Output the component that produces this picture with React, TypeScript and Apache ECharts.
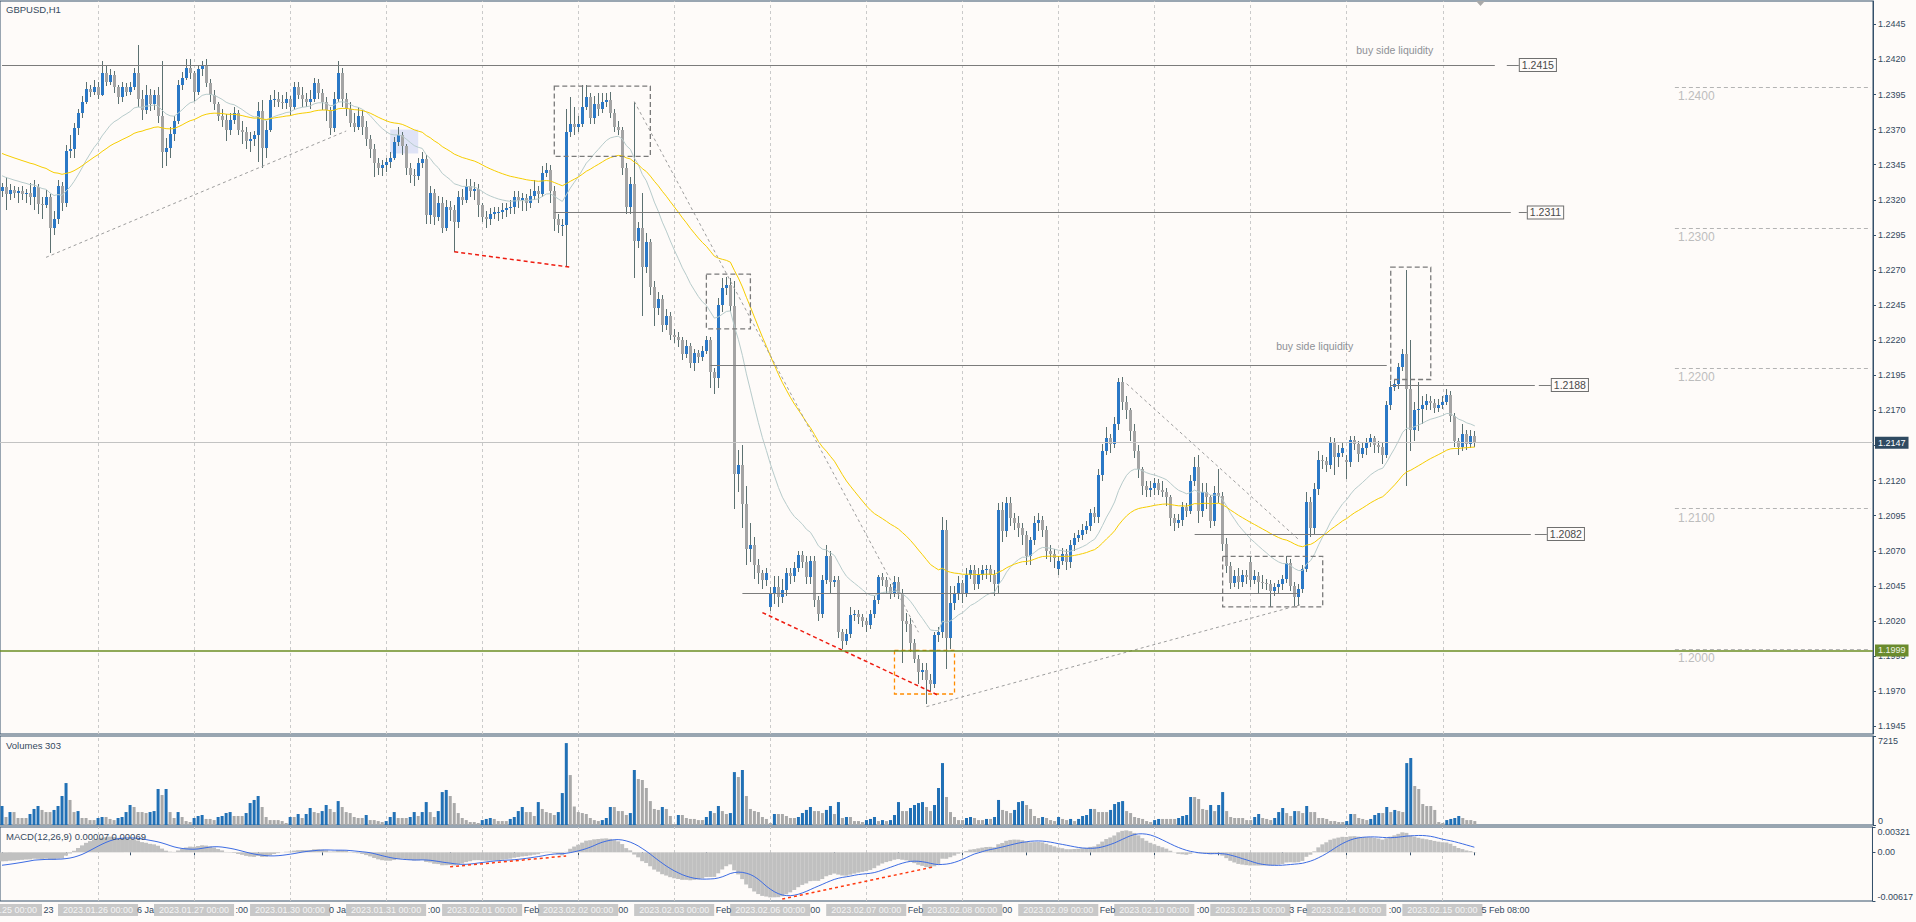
import React, { useEffect, useRef } from 'react';
import * as echarts from 'echarts';

// ---------------- DATA ----------------
const TITLE = 'GBPUSD,H1';
const VOLUME_TITLE = 'Volumes 303';
const MACD_TITLE = 'MACD(12,26,9) 0.00007 0.00069';
const DAYS = ['2023.01.25', '2023.01.26', '2023.01.27', '2023.01.30', '2023.01.31', '2023.02.01', '2023.02.02', '2023.02.03',
  '2023.02.06', '2023.02.07', '2023.02.08', '2023.02.09', '2023.02.10', '2023.02.13', '2023.02.14', '2023.02.15'];
const BARS_PER_DAY = 24;
const BARS_LAST_DAY = 9;
const FUTURE_BARS = 99;
const TIME_LABEL_EVERY = 16;
const MONTHS = ['Jan', 'Feb', 'Mar', 'Apr', 'May', 'Jun', 'Jul', 'Aug', 'Sep', 'Oct', 'Nov', 'Dec'];

// hourly bars: [open, high, low, close, volume]; prices in pips above 1.0000
const D0125 = [[2326,2332,2322,2329,1540],[2329,2336,2313,2324,650],[2324,2331,2320,2327,1050],[2327,2330,2321,2325,1050],[2325,2329,2318,2326,570],[2326,2330,2320,2324,570],[2324,2328,2318,2325,570],[2325,2332,2316,2322,890],[2322,2334,2313,2329,1300],[2329,2331,2310,2317,1540],[2317,2322,2306,2316,1220],[2316,2327,2314,2322,1050],[2322,2324,2282,2300,1050],[2300,2312,2295,2306,1220],[2306,2334,2303,2330,1540],[2330,2333,2312,2318,2350],[2318,2359,2315,2355,3400],[2355,2366,2350,2356,2030],[2356,2375,2350,2371,1050],[2371,2385,2366,2382,1130],[2382,2394,2378,2390,570],[2390,2404,2388,2399,570],[2399,2402,2393,2397,400],[2397,2405,2395,2400,400]];
const D0126 = [[2400,2404,2392,2395,570],[2395,2419,2394,2410,650],[2410,2416,2401,2404,650],[2404,2413,2402,2409,490],[2409,2412,2396,2400,400],[2400,2402,2388,2393,570],[2393,2404,2390,2400,650],[2400,2403,2394,2397,1050],[2397,2404,2395,2400,1620],[2400,2414,2398,2410,1460],[2410,2430,2386,2392,1050],[2392,2398,2377,2384,1050],[2384,2402,2381,2395,970],[2395,2399,2383,2388,1050],[2388,2398,2384,2395,1130],[2395,2400,2375,2380,2920],[2380,2419,2343,2354,2430],[2354,2364,2344,2357,2920],[2357,2372,2350,2367,1050],[2367,2380,2362,2376,570],[2376,2405,2374,2402,1050],[2402,2411,2398,2407,650],[2407,2420,2405,2414,320],[2414,2420,2406,2410,240]];
const D0127 = [[2410,2412,2390,2397,570],[2397,2416,2395,2413,730],[2413,2419,2408,2416,810],[2416,2420,2400,2403,490],[2403,2406,2390,2395,490],[2395,2398,2384,2388,400],[2388,2390,2376,2380,650],[2380,2385,2372,2377,730],[2377,2381,2362,2370,970],[2370,2382,2366,2377,1050],[2377,2386,2374,2382,730],[2382,2384,2366,2370,730],[2370,2376,2360,2368,730],[2368,2372,2356,2362,970],[2362,2368,2354,2363,1780],[2363,2369,2358,2366,2030],[2366,2390,2347,2383,2350],[2383,2391,2343,2357,1460],[2357,2376,2350,2370,650],[2370,2395,2368,2391,400],[2391,2398,2386,2392,400],[2392,2397,2386,2390,400],[2390,2395,2385,2389,320],[2389,2397,2385,2392,160]];
const D0130 = [[2392,2394,2380,2386,650],[2386,2404,2384,2400,650],[2400,2404,2392,2395,890],[2395,2400,2386,2392,570],[2392,2396,2386,2390,890],[2390,2398,2385,2392,1380],[2392,2407,2390,2403,1050],[2403,2406,2392,2396,970],[2396,2399,2384,2390,1130],[2390,2393,2376,2384,1620],[2384,2386,2366,2371,1300],[2371,2397,2368,2392,1050],[2392,2419,2390,2410,1940],[2410,2414,2386,2392,1460],[2392,2396,2380,2385,1050],[2385,2390,2372,2375,970],[2375,2382,2368,2372,650],[2372,2386,2370,2380,570],[2380,2384,2366,2372,570],[2372,2376,2358,2363,810],[2363,2366,2350,2356,400],[2356,2360,2336,2346,400],[2346,2350,2338,2343,320],[2343,2348,2337,2345,240]];
const D0131 = [[2345,2350,2340,2347,320],[2347,2354,2343,2350,650],[2350,2365,2348,2361,1050],[2361,2372,2358,2366,570],[2366,2368,2352,2358,570],[2358,2360,2338,2343,570],[2343,2346,2332,2338,650],[2338,2342,2330,2337,1050],[2337,2350,2334,2346,730],[2346,2354,2343,2349,1050],[2349,2352,2303,2309,1860],[2309,2330,2303,2325,1050],[2325,2328,2302,2308,650],[2308,2323,2305,2318,1130],[2318,2322,2296,2300,2670],[2300,2320,2298,2315,2840],[2315,2319,2305,2313,2350],[2313,2316,2283,2304,1780],[2304,2326,2300,2322,970],[2322,2328,2316,2320,570],[2320,2335,2318,2330,400],[2330,2335,2322,2326,240],[2326,2333,2320,2328,240],[2328,2331,2308,2316,160]];
const D0201 = [[2316,2318,2304,2308,400],[2308,2312,2300,2306,490],[2306,2314,2302,2310,570],[2310,2315,2306,2311,490],[2311,2315,2305,2311,320],[2311,2318,2306,2313,320],[2313,2318,2308,2314,320],[2314,2320,2310,2315,490],[2315,2326,2310,2322,650],[2322,2326,2314,2320,1130],[2320,2325,2312,2321,1460],[2321,2324,2312,2318,1050],[2318,2328,2314,2323,1050],[2323,2334,2320,2326,730],[2326,2330,2318,2324,1860],[2324,2344,2322,2339,1300],[2339,2346,2336,2341,1050],[2341,2345,2318,2326,970],[2326,2330,2298,2306,810],[2306,2310,2296,2302,1050],[2302,2306,2294,2302,2590],[2302,2385,2272,2368,6640],[2368,2393,2365,2374,4050],[2374,2386,2366,2372,1500]];
const D0202 = [[2372,2380,2368,2374,1050],[2374,2402,2372,2386,970],[2386,2402,2384,2393,890],[2393,2396,2374,2378,570],[2378,2394,2374,2388,400],[2388,2396,2380,2385,320],[2385,2396,2382,2390,400],[2390,2396,2386,2391,570],[2391,2397,2378,2382,1460],[2382,2385,2368,2372,1460],[2372,2376,2366,2370,1130],[2370,2372,2338,2343,1130],[2343,2346,2310,2315,810],[2315,2336,2310,2331,970],[2331,2390,2264,2291,4460],[2291,2304,2286,2300,3730],[2300,2325,2237,2272,3650],[2272,2296,2268,2290,3000],[2290,2292,2252,2258,1940],[2258,2262,2230,2243,1300],[2243,2254,2238,2249,1220],[2249,2252,2226,2231,1460],[2231,2242,2227,2237,1300],[2237,2240,2220,2224,730]];
const D0203 = [[2224,2228,2218,2222,80],[2222,2226,2215,2220,810],[2220,2222,2206,2210,810],[2210,2220,2207,2216,570],[2216,2218,2200,2204,490],[2204,2214,2198,2211,490],[2211,2213,2204,2208,400],[2208,2216,2205,2212,400],[2212,2223,2210,2220,650],[2220,2222,2186,2197,1130],[2197,2200,2182,2193,970],[2193,2250,2186,2245,1540],[2245,2264,2240,2257,1130],[2257,2265,2252,2259,890],[2259,2264,2240,2244,970],[2244,2262,2100,2125,4290],[2125,2142,2112,2131,3890],[2131,2145,2086,2103,4460],[2103,2116,2060,2071,2350],[2071,2090,2062,2074,1300],[2074,2080,2050,2060,1130],[2060,2064,2046,2054,1050],[2054,2056,2043,2049,650],[2049,2058,2045,2054,490]];
const D0206 = [[2030,2044,2027,2040,160],[2040,2052,2032,2044,890],[2044,2052,2030,2037,890],[2037,2050,2033,2042,890],[2042,2058,2038,2054,730],[2054,2058,2046,2052,570],[2052,2062,2048,2058,570],[2058,2070,2055,2067,650],[2067,2070,2058,2062,970],[2062,2066,2046,2051,1220],[2051,2066,2046,2063,1460],[2063,2066,2030,2035,1130],[2035,2038,2020,2025,1130],[2025,2053,2022,2049,970],[2049,2074,2046,2066,1220],[2066,2070,2040,2048,1540],[2048,2052,2044,2049,890],[2049,2052,2008,2012,1860],[2012,2014,2000,2006,570],[2006,2014,2003,2011,650],[2011,2030,2008,2024,650],[2024,2028,2020,2025,320],[2025,2028,2018,2023,320],[2023,2025,2016,2020,240]];
const D0207 = [[2020,2022,2012,2017,400],[2017,2028,2014,2025,490],[2025,2038,2022,2035,650],[2035,2053,2032,2051,320],[2051,2054,2045,2049,400],[2049,2051,2040,2044,320],[2044,2046,2036,2040,400],[2040,2052,2037,2048,810],[2048,2051,2036,2040,1860],[2040,2043,1990,2020,1130],[2020,2026,2012,2018,1130],[2018,2022,1998,2004,1380],[2004,2007,1990,1993,1620],[1993,1996,1975,1984,1780],[1984,1990,1978,1985,1860],[1985,1990,1961,1978,1460],[1978,1982,1970,1975,1130],[1975,2012,1972,2010,1620],[2010,2016,2005,2012,3000],[2012,2094,2008,2085,5020],[2085,2092,1986,2008,2270],[2008,2045,2000,2033,1050],[2033,2045,2028,2039,650],[2039,2052,2035,2047,400]];
const D0208 = [[2047,2049,2033,2040,400],[2040,2058,2037,2053,570],[2053,2060,2050,2056,650],[2056,2060,2042,2046,570],[2046,2058,2043,2053,400],[2053,2060,2049,2056,400],[2056,2060,2050,2057,490],[2057,2060,2048,2053,490],[2053,2056,2038,2046,650],[2046,2104,2040,2099,2030],[2099,2105,2076,2084,1220],[2084,2108,2080,2104,1130],[2104,2108,2088,2093,970],[2093,2097,2085,2090,1220],[2090,2095,2080,2086,1860],[2086,2090,2074,2081,1940],[2081,2084,2060,2066,1620],[2066,2080,2060,2078,1300],[2078,2095,2074,2090,730],[2090,2097,2084,2092,570],[2092,2095,2080,2085,650],[2085,2088,2064,2070,570],[2070,2074,2062,2068,400],[2068,2071,2058,2065,320]];
const D0209 = [[2057,2066,2053,2063,650],[2063,2072,2060,2068,490],[2068,2071,2056,2062,400],[2062,2078,2058,2074,490],[2074,2083,2070,2079,320],[2079,2085,2076,2081,490],[2081,2089,2078,2085,730],[2085,2091,2082,2088,810],[2088,2100,2084,2097,1300],[2097,2101,2090,2094,1300],[2094,2128,2090,2124,1050],[2124,2146,2120,2141,1050],[2141,2158,2138,2150,1050],[2150,2153,2140,2146,1220],[2146,2165,2143,2160,1700],[2160,2193,2156,2190,1860],[2190,2194,2170,2176,1940],[2176,2180,2164,2170,1130],[2170,2172,2148,2155,970],[2155,2160,2136,2141,650],[2141,2145,2122,2128,570],[2128,2130,2110,2116,490],[2116,2120,2108,2113,320],[2113,2120,2108,2115,240]];
const D0210 = [[2115,2122,2110,2118,400],[2118,2121,2110,2113,490],[2113,2120,2108,2112,490],[2112,2115,2102,2108,490],[2108,2110,2088,2093,490],[2093,2096,2084,2090,490],[2090,2096,2086,2092,570],[2092,2105,2088,2101,730],[2101,2104,2094,2098,810],[2098,2124,2096,2120,2270],[2120,2137,2116,2130,2270],[2130,2138,2090,2098,2110],[2098,2118,2094,2112,1300],[2112,2118,2100,2108,1220],[2108,2110,2086,2091,1620],[2091,2116,2088,2111,1130],[2111,2128,2104,2109,1620],[2109,2112,2070,2075,2670],[2075,2079,2054,2059,1130],[2059,2062,2043,2047,650],[2047,2056,2044,2052,570],[2052,2058,2043,2048,570],[2048,2056,2044,2053,570],[2053,2056,2046,2051,400]];
const D0213 = [[2062,2066,2044,2049,400],[2049,2056,2046,2052,650],[2052,2055,2040,2048,890],[2048,2053,2043,2047,570],[2047,2050,2042,2046,490],[2046,2049,2030,2041,400],[2041,2047,2038,2044,570],[2044,2049,2040,2046,1050],[2046,2053,2042,2050,1380],[2050,2066,2047,2061,970],[2061,2064,2041,2045,730],[2045,2048,2031,2037,1130],[2037,2046,2031,2043,1130],[2043,2060,2040,2057,970],[2057,2112,2055,2105,1540],[2105,2108,2080,2086,1050],[2086,2118,2082,2114,1050],[2114,2141,2110,2135,570],[2135,2138,2128,2134,570],[2134,2137,2126,2131,490],[2131,2151,2128,2147,320],[2147,2150,2124,2137,320],[2137,2145,2130,2140,240],[2140,2147,2137,2143,240]];
const D0214 = [[2135,2138,2121,2133,320],[2133,2152,2130,2149,890],[2149,2152,2142,2146,890],[2146,2148,2133,2139,570],[2139,2147,2136,2143,490],[2143,2150,2138,2147,400],[2147,2153,2144,2150,490],[2150,2152,2140,2145,810],[2145,2148,2140,2144,970],[2144,2147,2132,2138,970],[2138,2177,2136,2174,1460],[2174,2191,2170,2187,1050],[2187,2192,2184,2189,1220],[2189,2204,2185,2201,1130],[2201,2214,2198,2210,1050],[2210,2270,2116,2185,5020],[2185,2220,2141,2156,5430],[2156,2176,2148,2170,3160],[2170,2190,2155,2171,2920],[2171,2180,2160,2174,1700],[2174,2182,2170,2177,1540],[2177,2180,2170,2175,1540],[2175,2178,2168,2172,1220],[2172,2178,2169,2174,240]];
const D0215 = [[2174,2180,2171,2176,160],[2176,2185,2174,2181,400],[2181,2184,2162,2166,490],[2166,2168,2144,2148,570],[2148,2150,2138,2144,730],[2144,2160,2141,2153,570],[2153,2156,2142,2146,400],[2146,2156,2143,2152,400],[2152,2155,2144,2147,320]];
const DAY_BARS = [D0125, D0126, D0127, D0130, D0131, D0201, D0202, D0203, D0206, D0207, D0208, D0209, D0210, D0213, D0214, D0215];

// axis ticks / labels
const PRICE_TICKS = [1.1945, 1.1970, 1.1995, 1.2020, 1.2045, 1.2070, 1.2095, 1.2120, 1.2145, 1.2170, 1.2195, 1.2220, 1.2245, 1.2270, 1.2295, 1.2320, 1.2345, 1.2370, 1.2395, 1.2420, 1.2445];
const PRICE_RANGE = [1.19395, 1.24616];
const VOLUME_TICKS = [0, 7215];
const MACD_TICKS = [-0.00617, 0, 0.00321];

// indicator seeds (values before the first visible bar)
const EMA_FAST_SEED = 1.2338; // grey EMA(20)
const EMA_SLOW_SEED = 1.2354; // yellow EMA(50)
const MACD_SEED = { fast: 1.2333, slow: 1.2345, signal: -0.0017 };

// chart objects: [fromBar, toBar, price]
const LEVEL_LINES = [[0, 373, 1.2416], [138, 377, 1.2311], [177, 346, 1.2202], [347, 383, 1.2188], [298, 382, 1.2082], [185, 324, 1.2040]];
// price tags: [fromBar, toBar, price, text]
const LEVEL_TAGS = [[376, 379, 1.2416, '1.2415'], [379, 381, 1.2311, '1.2311'], [384, 387, 1.2188, '1.2188'], [383, 386, 1.2082, '1.2082']];
const ROUND_LEVELS = [1.2400, 1.2300, 1.2200, 1.2100, 1.2000];
const ROUND_LEVEL_FROM = 418;
const BID_PRICE = 1.2147;
const SUPPORT_PRICE = 1.1999;
// rectangles: [fromBar, topPrice, toBar, bottomPrice]
const DASHED_BOXES = [[138, 1.2401, 162, 1.2351], [176, 1.2267, 187, 1.2228], [347, 1.2272, 357, 1.2192], [305, 1.2066, 330, 1.2030]];
const ORANGE_BOX = [223, 1.1999, 238, 1.1968];
const SHADE_BOX = [97, 1.2370, 104, 1.2353];
// trend lines: [fromBar, fromPrice, toBar, toPrice]
const TREND_LINES = [[11, 1.2279, 86, 1.2369], [158, 1.2390, 229, 1.2012], [231, 1.1959, 325, 1.2032], [281, 1.2189, 324, 1.2078]];
const RED_LINES = [[113, 1.2283, 142, 1.2272], [190, 1.2026, 234, 1.1967]];
const MACD_RED_LINES = [[112, -0.00183, 141, -0.00047], [195, -0.00592, 233, -0.00183]];
const NOTES = [[348, 1.2427, 'buy side liquidity'], [328, 1.2216, 'buy side liquidity']];

// ---------------- STYLE ----------------
const BG = '#fefbf9';
const FRAME = '#35506a';
const TXT = '#34495e';
const BULL = '#2a78c6';
const BEAR = '#a4a4a4';
const WICK = '#5c7171';
const FONT = 'Liberation Sans';
const AXIS_FONT = `9px "${FONT}"`;
const TIME_ROW_Y = 910;

function emaSeries(values: number[], period: number, seed: number) {
  const k = 2 / (period + 1);
  let e = seed;
  return values.map((v) => (e = e + k * (v - e)));
}

export default function App() {
  const ref = useRef<HTMLDivElement>(null);

  useEffect(() => {
    if (!ref.current) return;
    const chart = echarts.init(ref.current, null, { renderer: 'svg' });

    // categories
    const cats: string[] = [];
    DAYS.forEach((d, k) => {
      const n = k === DAYS.length - 1 ? BARS_LAST_DAY : BARS_PER_DAY;
      for (let h = 0; h < n; h++) cats.push(`${d} ${String(h).padStart(2, '0')}:00`);
    });
    const NDATA = cats.length;
    for (let f = 0; f < FUTURE_BARS; f++) cats.push(`future ${f}`);

    const timeLabel = (i: number) => {
      const v = cats[i];
      const m = Number(v.slice(5, 7));
      const dd = String(Number(v.slice(8, 10)));
      if (i === 0) return `${dd} ${MONTHS[m - 1]} ${v.slice(0, 4)}`;
      return `${dd} ${MONTHS[m - 1]} ${v.slice(11)}`;
    };

    const px = (v: number) => Number((1 + v / 10000).toFixed(4));
    const bars = ([] as number[][]).concat(...DAY_BARS);
    const candles = bars.map((b, i) => [i, px(b[0]), px(b[1]), px(b[2]), px(b[3])]);
    const closes = bars.map((b) => px(b[3]));
    const vols = bars.map((b) => b[4]);

    const emaFast = emaSeries(closes, 20, EMA_FAST_SEED);
    const emaSlow = emaSeries(closes, 50, EMA_SLOW_SEED);
    const e12 = emaSeries(closes, 12, MACD_SEED.fast);
    const e26 = emaSeries(closes, 26, MACD_SEED.slow);
    const macd = e12.map((v, i) => v - e26[i]);
    const padded = [...Array(8).fill(MACD_SEED.signal), ...macd];
    const signal = macd.map((_, i) => padded.slice(i, i + 9).reduce((a, b) => a + b, 0) / 9);

    const volData = vols.map((v, i) => ({
      value: v,
      itemStyle: { color: i === 0 || v > vols[i - 1] ? '#2170b5' : '#a9a9a9' },
    }));

    const dayStarts: number[] = [];
    for (let i = 0; i < NDATA; i += BARS_PER_DAY) dayStarts.push(i);
    const daySeps = dayStarts.filter((i) => i > 0).map((i) => ({ xAxis: cats[i] }));
    const sepLine = () => ({
      silent: true, symbol: ['none', 'none'], z: 1, label: { show: false }, precision: 6,
      lineStyle: { color: '#cacaca', type: [3, 3], width: 1 },
      emphasis: { disabled: true },
      data: daySeps,
    });
    const C = (i: number) => cats[i];

    const tagLabel = (text: string) => ({
      show: true, position: 'end', distance: 1, formatter: text,
      backgroundColor: BG, borderColor: '#6f6f6f', borderWidth: 1,
      color: '#4a4a4a', fontSize: 10.5, padding: [1, 2, 0, 2], lineHeight: 11,
    });

    const annotationLines: any[] = [];
    LEVEL_LINES.forEach(([a, b, p]) => annotationLines.push([
      { coord: [C(a), p], lineStyle: { color: '#7b7b7b', width: 1, type: 'solid' } }, { coord: [C(b), p] },
    ]));
    LEVEL_TAGS.forEach(([a, b, p, t]) => annotationLines.push([
      { coord: [C(a as number), p], lineStyle: { color: '#7b7b7b', width: 1, type: 'solid' }, label: tagLabel(t as string) },
      { coord: [C(b as number), p] },
    ]));
    TREND_LINES.forEach(([a, p1, b, p2]) => annotationLines.push([
      { coord: [C(a), p1], lineStyle: { color: '#9d9d9d', width: 1, type: [3, 3] } }, { coord: [C(b), p2] },
    ]));
    RED_LINES.forEach(([a, p1, b, p2]) => annotationLines.push([
      { coord: [C(a), p1], lineStyle: { color: '#ee1c10', width: 1.5, type: [4, 3] } }, { coord: [C(b), p2] },
    ]));
    ROUND_LEVELS.forEach((p) => annotationLines.push([
      {
        coord: [C(ROUND_LEVEL_FROM), p], lineStyle: { color: '#b4b4b4', width: 1, type: [4, 3] },
        label: { show: true, position: 'insideStartBottom', distance: 3, formatter: p.toFixed(4), color: '#bdbdbd', fontSize: 12 },
      },
      { coord: [C(cats.length - 1), p] },
    ]));

    const fullLines = [
      {
        yAxis: BID_PRICE, lineStyle: { color: '#c3c3c3', width: 1, type: 'solid' },
        label: { show: true, position: 'end', distance: 2, formatter: BID_PRICE.toFixed(4), backgroundColor: '#2f4a61', color: '#ffffff', fontSize: 9, padding: [2, 3, 1, 3] },
      },
      {
        yAxis: SUPPORT_PRICE, lineStyle: { color: '#6b8e23', width: 1.5, type: 'solid' },
        label: { show: true, position: 'end', distance: 2, formatter: SUPPORT_PRICE.toFixed(4), backgroundColor: '#6a8b2e', color: '#eef3e2', fontSize: 9, padding: [2, 3, 1, 3] },
      },
    ];

    const boxes: any[] = DASHED_BOXES.map(([a, p1, b, p2]) => [
      { coord: [C(a), p1], itemStyle: { color: 'rgba(0,0,0,0)', borderColor: '#7a7a7a', borderWidth: 1.3, borderType: [5, 3] } },
      { coord: [C(b), p2] },
    ]);
    boxes.push([
      { coord: [C(ORANGE_BOX[0]), ORANGE_BOX[1]], itemStyle: { color: 'rgba(0,0,0,0)', borderColor: '#ff8c00', borderWidth: 1.3, borderType: [4, 3] } },
      { coord: [C(ORANGE_BOX[2]), ORANGE_BOX[3]] },
    ]);

    const staticGraphics: any[] = [
      { type: 'text', left: 6, top: 4, style: { text: TITLE, fill: TXT, font: `9.5px "${FONT}"` }, z: 10 },
      { type: 'text', left: 6, top: 740, style: { text: VOLUME_TITLE, fill: TXT, font: `9.5px "${FONT}"` }, z: 10 },
      { type: 'text', left: 6, top: 831, style: { text: MACD_TITLE, fill: TXT, font: `9.5px "${FONT}"` }, z: 10 },
      { type: 'polygon', shape: { points: [[1476, 1], [1485, 1], [1480.5, 6]] }, style: { fill: '#a9a9a9' }, z: 10 },
    ];

    const option: any = {
      animation: false,
      backgroundColor: BG,
      textStyle: { fontFamily: FONT },
      grid: [
        { left: 0, top: 1, width: 1873, height: 733, show: true, borderColor: FRAME, borderWidth: 1, backgroundColor: 'transparent' },
        { left: 0, top: 736, width: 1873, height: 89, show: true, borderColor: FRAME, borderWidth: 1, backgroundColor: 'transparent' },
        { left: 0, top: 827, width: 1873, height: 74, show: true, borderColor: FRAME, borderWidth: 1, backgroundColor: 'transparent' },
      ],
      xAxis: [
        { type: 'category', gridIndex: 0, data: cats, show: false },
        { type: 'category', gridIndex: 1, data: cats, show: false },
        {
          type: 'category', gridIndex: 2, data: cats, position: 'bottom',
          axisLine: { show: false }, splitLine: { show: false },
          axisTick: { show: true, alignWithLabel: true, length: 3, interval: (i: number) => i % TIME_LABEL_EVERY === 0 && i < NDATA, lineStyle: { color: FRAME } },
          axisLabel: { show: false },
        },
      ],
      yAxis: [
        {
          type: 'value', gridIndex: 0, position: 'right', min: PRICE_RANGE[0], max: PRICE_RANGE[1],
          splitLine: { show: false },
          axisLine: { show: true, lineStyle: { color: FRAME } },
          axisTick: { show: true, length: 3, customValues: PRICE_TICKS, lineStyle: { color: FRAME } },
          axisLabel: { customValues: PRICE_TICKS, formatter: (v: number) => v.toFixed(4), fontSize: 9, color: TXT, margin: 5 },
        },
        {
          type: 'value', gridIndex: 1, position: 'right', min: VOLUME_TICKS[0], max: VOLUME_TICKS[1],
          splitLine: { show: false },
          axisLine: { show: true, lineStyle: { color: FRAME } },
          axisTick: { show: true, length: 3, customValues: VOLUME_TICKS, lineStyle: { color: FRAME } },
          axisLabel: {
            customValues: VOLUME_TICKS, formatter: (v: number) => String(v), fontSize: 9, color: TXT, margin: 5,
            verticalAlignMinLabel: 'bottom', verticalAlignMaxLabel: 'top',
          },
        },
        {
          type: 'value', gridIndex: 2, position: 'right', min: MACD_TICKS[0], max: MACD_TICKS[2],
          splitLine: { show: false },
          axisLine: { show: true, lineStyle: { color: FRAME } },
          axisTick: { show: true, length: 3, customValues: MACD_TICKS, lineStyle: { color: FRAME } },
          axisLabel: {
            customValues: MACD_TICKS, formatter: (v: number) => (v === 0 ? '0.00' : v.toFixed(5)), fontSize: 9, color: TXT, margin: 5,
            verticalAlignMinLabel: 'bottom', verticalAlignMaxLabel: 'top',
          },
        },
      ],
      series: [
        {
          type: 'custom', name: 'candles', xAxisIndex: 0, yAxisIndex: 0, z: 2, clip: true,
          data: candles,
          encode: { x: 0, y: [1, 2, 3, 4] },
          renderItem: (params: any, api: any) => {
            const i = api.value(0);
            const o = api.value(1), h = api.value(2), l = api.value(3), c = api.value(4);
            const pO = api.coord([i, o]);
            const pC = api.coord([i, c]);
            const pH = api.coord([i, h]);
            const pL = api.coord([i, l]);
            const x0 = Math.round(pO[0] - 1.5);
            const wx = x0 + 1.5;
            const top = Math.round(Math.min(pO[1], pC[1]));
            const bot = Math.round(Math.max(pO[1], pC[1]));
            return {
              type: 'group',
              children: [
                { type: 'line', shape: { x1: wx, y1: Math.round(pH[1]), x2: wx, y2: Math.round(pL[1]) }, style: { stroke: WICK, lineWidth: 1 } },
                { type: 'rect', shape: { x: x0, y: top, width: 3, height: Math.max(1, bot - top) }, style: { fill: c >= o ? BULL : BEAR } },
              ],
            };
          },
          markLine: sepLine(),
          markArea: {
            silent: true, z: 1, label: { show: false },
            data: [[
              { coord: [C(SHADE_BOX[0]), SHADE_BOX[1]], itemStyle: { color: '#dfe3f6' } },
              { coord: [C(SHADE_BOX[2]), SHADE_BOX[3]] },
            ]],
          },
        },
        {
          type: 'line', name: 'ema20', xAxisIndex: 0, yAxisIndex: 0, z: 3, data: emaFast, symbol: 'none',
          lineStyle: { color: '#b7cbcb', width: 1 }, silent: true,
          markLine: {
            silent: true, symbol: ['none', 'none'], z: 5, label: { show: false }, emphasis: { disabled: true }, precision: 6,
            data: annotationLines,
          },
          markArea: { silent: true, z: 4, label: { show: false }, data: boxes },
          markPoint: {
            silent: true, symbol: 'rect', symbolSize: 1, itemStyle: { color: 'rgba(0,0,0,0)' },
            data: NOTES.map(([i, p, t]) => ({
              coord: [C(i as number), p],
              label: { show: true, position: 'inside', formatter: t as string, color: '#8e9196', fontSize: 10.5 },
            })),
          },
        },
        {
          type: 'line', name: 'ema50', xAxisIndex: 0, yAxisIndex: 0, z: 3, data: emaSlow, symbol: 'none',
          lineStyle: { color: '#f6cd00', width: 1 }, silent: true,
          markLine: {
            silent: true, symbol: ['none', 'none'], z: 5, label: { show: false }, emphasis: { disabled: true }, precision: 6,
            data: fullLines,
          },
        },
        {
          type: 'bar', name: 'volume', xAxisIndex: 1, yAxisIndex: 1, data: volData, barWidth: 3, silent: true,
          markLine: sepLine(),
        },
        {
          type: 'bar', name: 'macd', xAxisIndex: 2, yAxisIndex: 2, data: macd, barCategoryGap: '0%', silent: true,
          itemStyle: { color: '#c0c0c0' },
          markLine: sepLine(),
        },
        {
          type: 'line', name: 'signal', xAxisIndex: 2, yAxisIndex: 2, data: signal, symbol: 'none', z: 3, silent: true,
          lineStyle: { color: '#3c6be2', width: 1 },
          markLine: {
            silent: true, symbol: ['none', 'none'], z: 5, label: { show: false }, emphasis: { disabled: true }, precision: 6,
            data: MACD_RED_LINES.map(([a, v1, b, v2]) => [
              { coord: [C(a), v1], lineStyle: { color: '#ff3a10', width: 1.5, type: [3, 3] } }, { coord: [C(b), v2] },
            ]),
          },
        },
      ],
      graphic: staticGraphics,
    };

    chart.setOption(option);

    // time scale: grey date boxes on each day start, MT4 labels every 16 bars (only uncovered parts visible)
    const ctx = document.createElement('canvas').getContext('2d') as CanvasRenderingContext2D;
    ctx.font = AXIS_FONT;
    const tw = (s: string) => ctx.measureText(s).width;
    const covers: number[][] = [];
    const dateBoxes: any[] = [];
    dayStarts.forEach((i) => {
      const cx = chart.convertToPixel({ xAxisIndex: 2 }, cats[i]) as number;
      const bw = tw(cats[i]) + 10;
      covers.push([cx - bw / 2, cx + bw / 2]);
      dateBoxes.push({
        type: 'text', x: cx, y: TIME_ROW_Y, z: 9,
        style: {
          text: cats[i], fill: '#f5f5f5', font: AXIS_FONT, align: 'center', verticalAlign: 'middle',
          backgroundColor: '#c8c8c8', padding: [2, 5, 1, 5],
        },
      });
    });
    const frags: any[] = [];
    for (let i = 0; i < NDATA; i += TIME_LABEL_EVERY) {
      const tx = chart.convertToPixel({ xAxisIndex: 2 }, cats[i]) as number;
      const text = timeLabel(i);
      let x = tx + 2;
      let run = '';
      let runX = x;
      const flush = () => {
        const lead = run.length - run.trimStart().length;
        const t = run.trim();
        if (t) frags.push({ x: runX + tw(run.slice(0, lead)), text: t });
        run = '';
      };
      for (const ch of text) {
        const cw = tw(ch);
        const mid = x + cw / 2;
        const hidden = covers.some(([a, b]) => mid > a - 1 && mid < b + 1);
        if (!hidden) {
          if (!run) runX = x;
          run += ch;
        } else if (run) flush();
        x += cw;
      }
      if (run) flush();
    }
    const fragGraphics = frags.map((f) => ({
      type: 'text', x: f.x, y: TIME_ROW_Y, z: 10,
      style: { text: f.text, fill: TXT, font: AXIS_FONT, verticalAlign: 'middle', align: 'left' },
    }));
    chart.setOption({ graphic: [...staticGraphics, ...dateBoxes, ...fragGraphics] });

    return () => chart.dispose();
  }, []);

  return <div ref={ref} style={{ position: 'fixed', left: 0, top: 0, width: 1916, height: 922, background: BG }} />;
}
